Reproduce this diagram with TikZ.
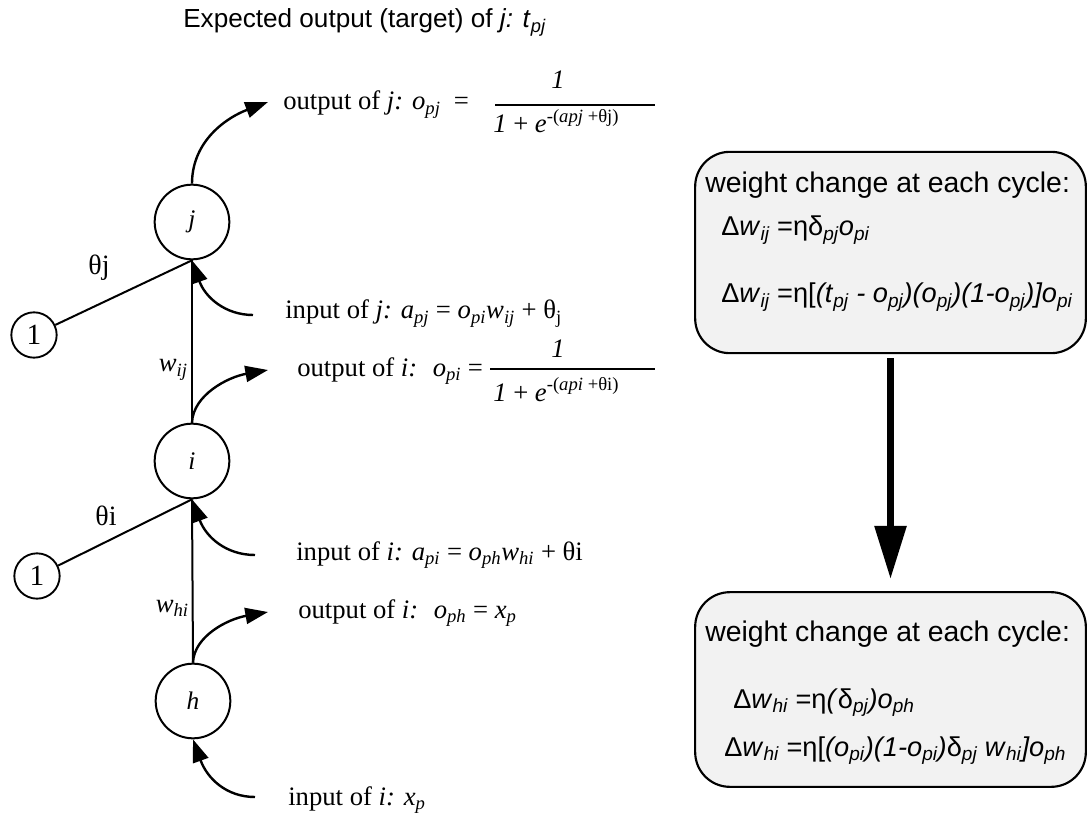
\documentclass[tikz,border=0pt]{standalone}
\usepackage{fontspec}
\setmainfont{Liberation Serif}
\newfontfamily\sansf{Liberation Sans}
\usetikzlibrary{arrows.meta}
\newcommand\sbi[1]{\textsubscript{\itshape #1}}
\newcommand\spr[1]{\textsuperscript{#1}}
\definecolor{boxfill}{RGB}{242,242,242}
\begin{document}
\begin{tikzpicture}[x=0.75pt,y=-0.75pt,
  neuron/.style={circle,draw,line width=1.5pt,minimum size=56pt,inner sep=0pt,font=\fontsize{19}{22}\selectfont\itshape},
  bias/.style={circle,draw,line width=1.4pt,minimum size=34pt,inner sep=0pt,font=\fontsize{22}{24}\selectfont},
  wire/.style={line width=1.5pt},
  flow/.style={line width=1.8pt,-{Triangle[length=17pt,width=12pt]}},
  lbl/.style={anchor=base west,inner sep=0pt,font=\fontsize{20}{24}\selectfont},
  wlbl/.style={anchor=base east,inner sep=0pt,font=\fontsize{20}{24}\selectfont\itshape},
  thlbl/.style={inner sep=0pt,font=\fontsize{21}{24}\selectfont},
  fracbar/.style={line width=1.6pt},
  box/.style={draw,line width=1.6pt,fill=boxfill,rounded corners=26pt,minimum width=293pt,inner sep=0pt},
  btxt/.style={anchor=base west,inner sep=0pt,font=\sansf\fontsize{21.3}{24}\selectfont},
  bform/.style={anchor=base west,inner sep=0pt,font=\sansf\fontsize{20.4}{24}\selectfont},
  big/.style={line width=5.3pt,-{Triangle[length=40pt,width=23pt]}}
]
\useasboundingbox (0,0) rectangle (1088,816);

% title
\node[anchor=base west,inner sep=0pt,font=\sansf\fontsize{19.6}{24}\selectfont] (title) at (183,28) {Expected output (target) of \textit{j: t}\sbi{pj}};

% neurons
\node[neuron] (j) at (192,222) {j};
\node[neuron] (i) at (192,461) {i};
\node[neuron] (h) at (193,701) {h};
\node[bias] (bj) at (34,335) {1};
\node[bias] (bi) at (37,576) {1};

% wires
\draw[wire] (bj) -- (j.south);
\draw[wire] (bi) -- (i.south);
\draw[wire] (j.south) -- (i.north);
\draw[wire] (i.south) -- (h.north);
\node[thlbl] (thj) at (99,268) {θj};
\node[thlbl] (thi) at (106,516) {θi};
\node[wlbl] (wij) at (188,372) {w\sbi{ij}};
\node[wlbl] (whi) at (189,612) {w\sbi{hi}};

% flow arrows
\coordinate (oj) at (268,102);
\coordinate (ij) at (253,315);
\coordinate (oi) at (268,370);
\coordinate (ii) at (255,555);
\coordinate (oh) at (268,612);
\coordinate (ih) at (255,797);
\draw[flow] (j.north) .. controls (192,140) and (228,117) .. (oj);
\draw[flow] (ij) .. controls (225,315) and (205,297) .. (j.south);
\draw[flow] (i.north) .. controls (193,395) and (228,377) .. (oi);
\draw[flow] (ii) .. controls (226,555) and (206,537) .. (i.south);
\draw[flow] (h.north) .. controls (194,636) and (228,619) .. (oh);
\draw[flow] (ih) .. controls (226,797) and (207,778) .. (h.south);

% labels j
\node[lbl] (outj) at (283,110) {output of \textit{j: o}\sbi{pj} \ =};
\node[anchor=base,inner sep=0pt,font=\fontsize{20}{24}\selectfont\itshape] (numj) at (558,89) {1};
\coordinate (fjl) at (495,105);
\coordinate (fjr) at (655,105);
\draw[fracbar] (fjl) -- (fjr);
\node[lbl] (denj) at (493,133) {\textit{1} + \textit{e}\spr{-(\textit{apj} +θj)}};
\node[lbl] (inj) at (285,319) {input of \textit{j: a}\sbi{pj} = \textit{o}\sbi{pi}\textit{w}\sbi{ij} + θ\textsubscript{j}};

% labels i
\node[lbl] (outi) at (297,376) {output of \textit{i:} \ \textit{o}\sbi{pi} =};
\node[anchor=base,inner sep=0pt,font=\fontsize{20}{24}\selectfont\itshape] (numi) at (558,358) {1};
\coordinate (fil) at (490,369);
\coordinate (fir) at (655,369);
\draw[fracbar] (fil) -- (fir);
\node[lbl] (deni) at (493,401) {\textit{1} + \textit{e}\spr{-(\textit{api} +θi)}};
\node[lbl] (ini) at (296,560) {input of \textit{i: a}\sbi{pi} = \textit{o}\sbi{ph}\textit{w}\sbi{hi} + θi};

% labels h
\node[lbl] (outh) at (298,618) {output of \textit{i:} \ \textit{o}\sbi{ph} = \textit{x}\sbi{p}};
\node[lbl] (inh) at (288,805) {input of \textit{i: x}\sbi{p}};

% boxes
\node[box,minimum height=151pt] (b1) at (890.5,252.5) {};
\node[box,minimum height=146pt] (b2) at (890.5,689.5) {};
\draw[big,shorten <=3pt,shorten >=9pt] (b1.south) -- (b2.north);

\node[btxt] (w1) at (705,193) {weight change at each cycle:};
\node[bform] (d1) at (721,236) {Δ\textit{w}\sbi{ij} =ηδ\sbi{pj}\textit{o}\sbi{pi}};
\node[bform] (d2) at (721,303) {Δ\textit{w}\sbi{ij} =η[\textit{(t}\sbi{pj} \textit{- o}\sbi{pj}\textit{)(o}\sbi{pj}\textit{)(1-o}\sbi{pj}\textit{)]o}\sbi{pi}};
\node[btxt] (w2) at (705,641) {weight change at each cycle:};
\node[bform] (d3) at (733,708) {Δ\textit{w}\sbi{hi} =η\textit{(}δ\sbi{pj}\textit{)o}\sbi{ph}};
\node[bform] (d4) at (724,756) {Δ\textit{w}\sbi{hi} =η[\textit{(o}\sbi{pi}\textit{)(1-o}\sbi{pi}\textit{)}δ\sbi{pj} \textit{w}\sbi{hi}\textit{]o}\sbi{ph}};
\end{tikzpicture}
\end{document}
